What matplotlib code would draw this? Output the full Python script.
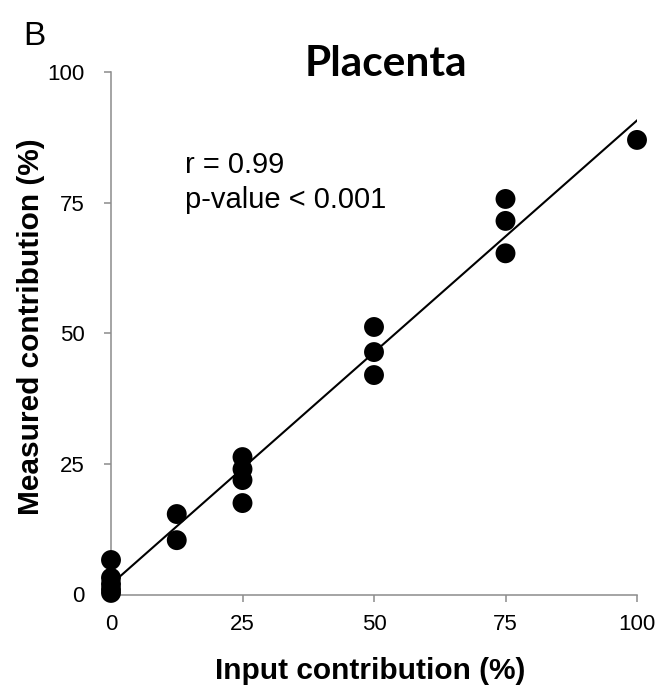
import numpy as np
import matplotlib
matplotlib.use("Agg")
import matplotlib.pyplot as plt

# Spike-in mixtures: expected vs. measured placental contribution
input_pct = [0, 0, 0, 0, 0,
             12.5, 12.5,
             25, 25, 25, 25,
             50, 50, 50,
             75, 75, 75,
             100]
measured_pct = [6.6, 3.2, 2.0, 1.0, 0.3,
                15.4, 10.4,
                26.3, 24.0, 21.9, 17.5,
                51.2, 46.4, 42.0,
                75.7, 71.5, 65.3,
                87.0]
tick_values = [0, 25, 50, 75, 100]
panel_letter = "B"
title_text = "Placenta"
x_label = "Input contribution (%)"
y_label = "Measured contribution (%)"
r_text = "r = 0.99"
p_text = "p-value < 0.001"

W, H = 659, 691
fig = plt.figure(figsize=(W / 100, H / 100), dpi=100)
fig.patch.set_facecolor("white")

ax = fig.add_axes([111 / W, 1 - 594.5 / H, (637 - 111) / W, (594.5 - 72) / H])
ax.set_xlim(0, 100)
ax.set_ylim(0, 100)

# least-squares trend line over the input range
slope, intercept = np.polyfit(input_pct, measured_pct, 1)
xs = np.array([min(input_pct), max(input_pct)])
ax.plot(xs, slope * xs + intercept, color="black", lw=1.5, zorder=3)

ax.scatter(input_pct, measured_pct, s=205, color="black", edgecolors="none",
           zorder=4, clip_on=False)

for side in ("top", "right"):
    ax.spines[side].set_visible(False)
for side in ("left", "bottom"):
    ax.spines[side].set_color("#8c8c8c")
    ax.spines[side].set_linewidth(1.1)

ax.set_xticks(tick_values)
ax.set_yticks(tick_values)
ax.tick_params(axis="both", colors="#8c8c8c", length=5, width=1.1,
               labelcolor="black", labelsize=16)
ax.tick_params(axis="y", pad=14)
ax.tick_params(axis="x", pad=9)
for lbl in ax.get_xticklabels() + ax.get_yticklabels():
    lbl.set_fontfamily("Liberation Sans")

ax.text(14.1, 80.7, r_text, fontsize=21, family="Liberation Sans",
        va="baseline", ha="left")
ax.text(14.1, 74.0, p_text, fontsize=21, family="Liberation Sans",
        va="baseline", ha="left")

fig.text(23 / W, 1 - 45 / H, panel_letter, fontsize=24,
         family="Liberation Sans", va="baseline", ha="left")
fig.text(386 / W, 1 - 76 / H, title_text, fontsize=30.5, family="Lato",
         weight="bold", va="baseline", ha="center")
fig.text(370 / W, 1 - 679 / H, x_label, fontsize=21.5,
         family="Liberation Sans", weight="bold", va="baseline", ha="center")
fig.text(31 / W, 1 - 327 / H, y_label, fontsize=21.5,
         family="Liberation Sans", weight="bold", va="center", ha="center",
         rotation=90)

fig.savefig("out.png", dpi=100, facecolor="white")
